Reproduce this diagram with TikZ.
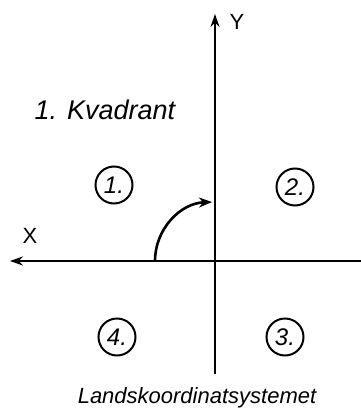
\documentclass[tikz,border=0pt]{standalone}
\usepackage{fontspec}
\setmainfont{Liberation Sans}
\usetikzlibrary{arrows.meta}
\begin{document}
\begin{tikzpicture}[x=1pt,y=-1pt,
  axis/.style={line width=2.4pt,-{Stealth[length=13pt,width=9pt]}},
  quad/.style={circle,draw,line width=2pt,minimum size=37pt,inner sep=0pt,font=\itshape\fontsize{24}{24}\selectfont},
  lbl/.style={font=\fontsize{22}{22}\selectfont}]
\useasboundingbox (0,0) rectangle (361,412);
\coordinate (O) at (215,261);
\coordinate (ytop) at (215,14);
\coordinate (ybot) at (215,374);
\coordinate (xleft) at (10,261);
\coordinate (xright) at (361,261);
\coordinate (arcstart) at (155,261);
\draw[line width=2.4pt] (ybot) -- (O);
\draw[axis] (O) -- (ytop);
\draw[line width=2.4pt] (xright) -- (O);
\draw[axis] (O) -- (xleft);
\draw[line width=2.6pt,-{Stealth[length=13pt,width=10pt]}] (arcstart) arc[start angle=180,end angle=268,radius=59];
\node[lbl] (Y) at (237,22) {Y};
\node[lbl] (X) at (30,236) {X};
\node[font=\itshape\fontsize{27}{27}\selectfont,anchor=west] (title) at (31,110) {1. Kvadrant};
\node[quad] (q1) at (114,185) {1.};
\node[quad] (q2) at (295,187) {2.};
\node[quad] (q3) at (285,337) {3.};
\node[quad] (q4) at (117,337) {4.};
\node[font=\itshape\fontsize{22}{22}\selectfont] (cap) at (197,398) {Landskoordinatsystemet};
\end{tikzpicture}
\end{document}
